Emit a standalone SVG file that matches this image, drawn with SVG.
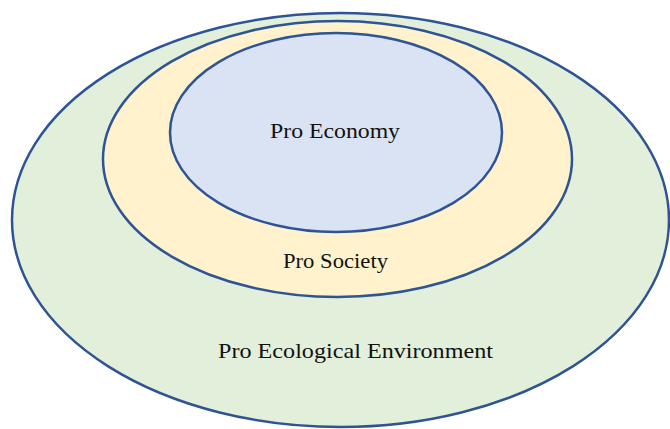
<svg xmlns="http://www.w3.org/2000/svg" width="670" height="429" viewBox="0 0 670 429">
<style>
.e{stroke:#2F5496;stroke-width:2.5}
.t{font-family:"Liberation Serif","DejaVu Serif",serif;font-size:21px;fill:#111;text-anchor:middle}
</style>
<rect width="670" height="429" fill="#fff"/>
<g id="env"><ellipse class="e" cx="340.5" cy="220" rx="328.5" ry="207" fill="#E2EFDA"/>
<text class="t" x="355.5" y="358" textLength="275" lengthAdjust="spacingAndGlyphs">Pro Ecological Environment</text></g>
<g id="society"><ellipse class="e" cx="337.5" cy="159" rx="234.5" ry="138" fill="#FFF2CC"/>
<text class="t" x="335.5" y="268" textLength="105" lengthAdjust="spacingAndGlyphs">Pro Society</text></g>
<g id="economy"><ellipse class="e" cx="336" cy="132.5" rx="166" ry="99.5" fill="#DAE3F3"/>
<text class="t" x="335" y="138" textLength="130" lengthAdjust="spacingAndGlyphs">Pro Economy</text></g>
<g id="connectors"/>
</svg>
